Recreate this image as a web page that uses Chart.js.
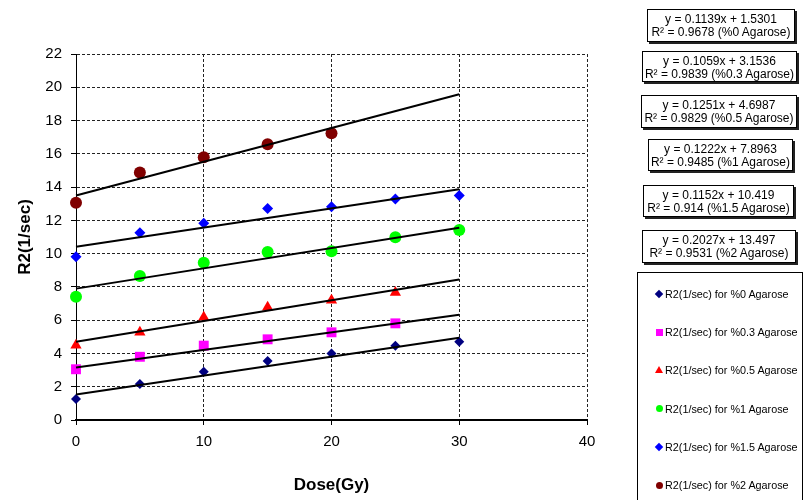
<!DOCTYPE html>
<html>
<head>
<meta charset="utf-8">
<script src="https://cdn.jsdelivr.net/npm/chart.js@4"></script>
<style>
  html, body { margin: 0; padding: 0; background: #fff; }
  #wrap { position: relative; width: 804px; height: 500px; overflow: hidden; font-family: 'Liberation Sans', Arial, sans-serif; }
  #c { position: absolute; left: 0; top: 0; }
  .eq { position: absolute; border: 1px solid #000; box-shadow: 2px 2px 0 #222; background: #fff;
        font-size: 12px; line-height: 13px; text-align: center; color: #000; box-sizing: border-box; padding-top: 3px; white-space: nowrap; }
  #legend { position: absolute; left: 637px; top: 272px; width: 166px; height: 240px; border: 1px solid #000; box-sizing: border-box; background: #fff; }
  .li { position: absolute; left: 0; font-size: 10.8px; color: #000; white-space: nowrap; height: 14px; line-height: 14px; }
  .li span.t { position: absolute; left: 27px; top: 0; }
  .mk { position: absolute; }
</style>
</head>
<body>
<div id="wrap">
  <canvas id="c" width="804" height="500"></canvas>
  <div id="eqs"></div>
  <div id="legend"></div>
</div>
<script>
// ---- Data ----
const doses = [0, 5, 10, 15, 20, 25, 30];
const seriesNames = [
  'R2(1/sec) for %0 Agarose',
  'R2(1/sec) for %0.3 Agarose',
  'R2(1/sec) for %0.5 Agarose',
  'R2(1/sec) for %1 Agarose',
  'R2(1/sec) for %1.5 Agarose',
  'R2(1/sec) for %2 Agarose'
];
const agaroseLabels = ['%0 Agarose', '%0.3 Agarose', '%0.5 Agarose', '%1 Agarose', '%1.5 Agarose', '%2 Agarose'];
const r2Agarose0  = [1.26, 2.16, 2.90, 3.55, 4.00, 4.47, 4.70];
const r2Agarose03 = [3.05, 3.80, 4.47, 4.85, 5.27, 5.81];
const r2Agarose05 = [4.50, 5.27, 6.17, 6.77, 7.20, 7.67];
const r2Agarose1  = [7.41, 8.65, 9.45, 10.10, 10.15, 10.98, 11.42];
const r2Agarose15 = [9.81, 11.26, 11.82, 12.72, 12.82, 13.28, 13.50];
const r2Agarose2  = [13.06, 14.88, 15.80, 16.57, 17.23];
// Trendline equations as printed on the chart
const trendSlopes     = [0.1139, 0.1059, 0.1251, 0.1222, 0.1152, 0.2027];
const trendIntercepts = [1.5301, 3.1536, 4.6987, 7.8963, 10.419, 13.497];
const trendR2         = ['0.9678', '0.9839', '0.9829', '0.9485', '0.914', '0.9531'];
const trendRange      = [0, 30];
const xTicks = [0, 10, 20, 30, 40];
const yTicks = [0, 2, 4, 6, 8, 10, 12, 14, 16, 18, 20, 22];

// ---- Styles ----
const allSeries = [r2Agarose0, r2Agarose03, r2Agarose05, r2Agarose1, r2Agarose15, r2Agarose2];
const colors = ['#000080', '#FF00FF', '#FF0000', '#00FF00', '#0000FF', '#800000'];
const styles = ['rectRot', 'rect', 'triangle', 'circle', 'rectRot', 'circle'];
const radii  = [5, 7, 6.5, 6, 5.5, 6];

Chart.defaults.font.family = "'Liberation Sans', Arial, sans-serif";
Chart.defaults.color = '#000';

const datasets = [];
allSeries.forEach((vals, i) => {
  datasets.push({
    type: 'scatter',
    label: seriesNames[i],
    data: vals.map((v, k) => ({ x: doses[k], y: v })),
    backgroundColor: colors[i],
    borderColor: colors[i],
    borderWidth: 0,
    pointStyle: styles[i],
    pointRadius: radii[i],
    pointHoverRadius: radii[i],
    showLine: false,
    clip: false,
    order: 2
  });
});
trendSlopes.forEach((m, i) => {
  datasets.push({
    type: 'line',
    label: 'trend' + i,
    data: trendRange.map(x => ({ x: x, y: m * x + trendIntercepts[i] })),
    borderColor: '#000',
    borderWidth: 2,
    pointRadius: 0,
    fill: false,
    clip: false,
    order: 1
  });
});

new Chart(document.getElementById('c'), {
  type: 'scatter',
  data: { datasets },
  options: {
    responsive: false,
    animation: false,
    events: [],
    layout: { padding: { left: 0, top: 54, right: 217, bottom: 0 } },
    plugins: { legend: { display: false }, tooltip: { enabled: false } },
    scales: {
      x: {
        type: 'linear', min: 0, max: 40,
        afterBuildTicks: s => { s.ticks = xTicks.map(v => ({ value: v })); },
        afterFit: s => { s.height = 80; },
        ticks: { font: { size: 15 }, padding: 8, color: '#000' },
        grid: { color: '#222', lineWidth: 1, tickLength: 5, tickColor: '#000' },
        border: { display: true, color: '#000', width: 2, dash: [3, 2] },
        title: { display: true, text: 'Dose(Gy)', font: { size: 17, weight: 'bold' }, padding: { top: 0, bottom: 4 }, color: '#000' }
      },
      y: {
        type: 'linear', min: 0, max: 22,
        afterBuildTicks: s => { s.ticks = yTicks.map(v => ({ value: v })); },
        afterFit: s => { s.width = 76; },
        ticks: { font: { size: 15 }, padding: 9, color: '#000' },
        grid: { color: '#222', lineWidth: 1, tickLength: 5, tickColor: '#000' },
        border: { display: true, color: '#000', width: 1, dash: [3, 2] },
        title: { display: true, text: 'R2(1/sec)', font: { size: 17, weight: 'bold' }, padding: { top: 15, bottom: 0 }, color: '#000' }
      }
    }
  }
});

// ---- Equation boxes (HTML text) ----
const eqBoxes = [
  [647, 9, 148, 33], [642, 51, 155, 31], [641, 95, 156, 33],
  [648, 139, 145, 32], [643, 185, 151, 32], [642, 230, 154, 33]
];
const eqs = document.getElementById('eqs');
eqBoxes.forEach((b, i) => {
  const d = document.createElement('div');
  d.className = 'eq';
  d.style.left = b[0] + 'px'; d.style.top = b[1] + 'px';
  d.style.width = b[2] + 'px'; d.style.height = b[3] + 'px';
  d.innerHTML = 'y = ' + trendSlopes[i] + 'x + ' + trendIntercepts[i] + '<br>R\u00B2 = ' + trendR2[i] + ' (' + agaroseLabels[i] + ')';
  eqs.appendChild(d);
});

// ---- Legend (HTML) ----
const legend = document.getElementById('legend');
const legendY = [21, 59, 97, 135.5, 174, 212];
seriesNames.forEach((name, i) => {
  const li = document.createElement('div');
  li.className = 'li';
  li.style.top = (legendY[i] - 7) + 'px';
  li.style.width = '160px';
  const mk = document.createElement('div');
  mk.className = 'mk';
  const cx = 21, cy = 7;
  if (styles[i] === 'rectRot') {
    mk.style.cssText = `left:${cx-3}px;top:${cy-3}px;width:6px;height:6px;background:${colors[i]};transform:rotate(45deg);`;
  } else if (styles[i] === 'rect') {
    mk.style.cssText = `left:${cx-3.5}px;top:${cy-3.5}px;width:7px;height:7px;background:${colors[i]};`;
  } else if (styles[i] === 'triangle') {
    mk.style.cssText = `left:${cx-4}px;top:${cy-4}px;width:0;height:0;border-left:4px solid transparent;border-right:4px solid transparent;border-bottom:7px solid ${colors[i]};`;
  } else {
    mk.style.cssText = `left:${cx-3.5}px;top:${cy-3.5}px;width:7px;height:7px;border-radius:50%;background:${colors[i]};`;
  }
  li.appendChild(mk);
  const t = document.createElement('span');
  t.className = 't';
  t.textContent = name;
  li.appendChild(t);
  legend.appendChild(li);
});
</script>
</body>
</html>
